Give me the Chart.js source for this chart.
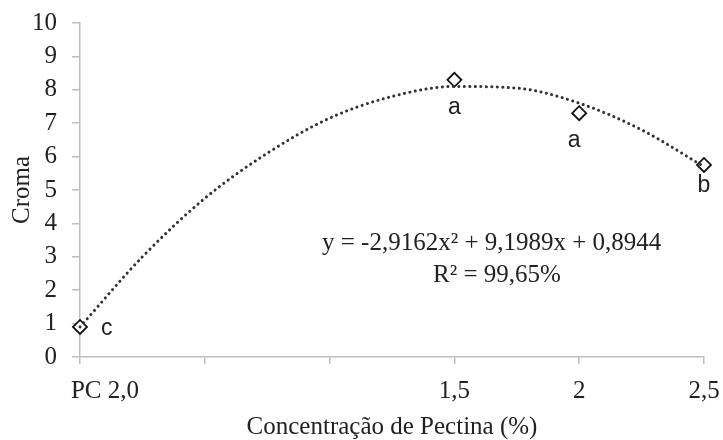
<!DOCTYPE html>
<html>
<head>
<meta charset="utf-8">
<script src="https://cdn.jsdelivr.net/npm/chart.js@4.4.0/dist/chart.umd.min.js"></script>
<style>
  body { margin: 0; background: #fff; }
  #wrap { width: 723px; height: 440px; position: relative; }
</style>
</head>
<body>
<div id="wrap"><canvas id="cromaChart"></canvas></div>
<script>
// Observed points (concentration, croma) and their letters
const pointX = [0, 1.5, 2, 2.5];
const pointY = [0.9, 8.3, 7.3, 5.75];
const pointLetters = ['c', 'a', 'a', 'b'];

// Dotted trend curve, every 0.25
const trendX = [0, 0.25, 0.5, 0.75, 1, 1.25, 1.5, 1.75, 2, 2.25, 2.5];
const trendY = [0.9, 3.0, 4.75, 6.1, 7.15, 7.8, 8.1, 8.05, 7.6, 6.8, 5.7];

// x tick labels (only some ticks are labelled)
const xTickValues = [0, 0.5, 1, 1.5, 2, 2.5];
const xTickLabels = ['        PC 2,0', '', '', '1,5', '2', '2,5'];

const equationText = 'y = -2,9162x\u00B2 + 9,1989x + 0,8944';
const r2Text = 'R\u00B2 = 99,65%';

const serif = '"Liberation Serif", "Times New Roman", serif';
const sans = '"Liberation Sans", Arial, sans-serif';
const axisGray = '#bfbfbf';
const textColor = '#222';

// letters next to points + equation box
const annotations = {
    id: 'annotations',
    afterDatasetsDraw(chart) {
        const ctx = chart.ctx;
        const meta = chart.getDatasetMeta(1);
        ctx.save();
        ctx.fillStyle = textColor;
        ctx.font = '23px ' + sans;
        ctx.textBaseline = 'alphabetic';
        meta.data.forEach((el, i) => {
            if (i === 0) {
                ctx.textAlign = 'left';
                ctx.fillText(pointLetters[i], el.x + 21, el.y + 8);
            } else {
                ctx.textAlign = 'center';
                ctx.fillText(pointLetters[i], el.x - (i === 2 ? 5 : 0), el.y + (i === 3 ? 27 : 34));
            }
        });
        ctx.font = '25px ' + serif;
        ctx.textAlign = 'left';
        ctx.fillText(equationText, 322, 250);
        ctx.fillText(r2Text, 433, 282);
        ctx.restore();
    }
};

const renderChart = () => {
    const ctx = document.getElementById('cromaChart').getContext('2d');
    Chart.defaults.font.family = serif;
    Chart.defaults.color = textColor;
    new Chart(ctx, {
        type: 'scatter',
        data: {
            datasets: [{
                type: 'line',
                data: trendX.map((x, i) => ({ x: x, y: trendY[i] })),
                borderColor: '#333',
                borderWidth: 3,
                borderDash: [0.1, 5.4],
                borderCapStyle: 'round',
                cubicInterpolationMode: 'monotone',
                pointRadius: 0,
                fill: false,
                clip: false
            }, {
                data: pointX.map((x, i) => ({ x: x, y: pointY[i] })),
                pointStyle: 'rectRot',
                pointRadius: 7,
                pointBorderWidth: 1.8,
                pointBorderColor: '#111',
                pointBackgroundColor: '#fff',
                clip: false
            }]
        },
        options: {
            responsive: true,
            maintainAspectRatio: false,
            animation: false,
            layout: { padding: { left: 0, top: 23, right: 19, bottom: 0 } },
            plugins: { legend: { display: false }, tooltip: { enabled: false } },
            scales: {
                x: {
                    type: 'linear',
                    min: 0,
                    max: 2.5,
                    afterFit: (s) => { s.height = 83; s.paddingLeft = 0; s.paddingRight = 0; },
                    afterBuildTicks: (s) => { s.ticks = xTickValues.map(v => ({ value: v })); },
                    border: { color: axisGray, width: 1.5 },
                    grid: { drawOnChartArea: false, color: axisGray, tickLength: 7, lineWidth: 1.5 },
                    ticks: {
                        font: { size: 25 },
                        padding: 12,
                        maxRotation: 0,
                        autoSkip: false,
                        callback: (v) => xTickLabels[xTickValues.indexOf(v)]
                    },
                    title: {
                        display: true,
                        text: 'Concentração de Pectina (%)',
                        font: { size: 25, lineHeight: 1 },
                        padding: 0
                    }
                },
                y: {
                    min: 0,
                    max: 10,
                    afterFit: (s) => { s.width = 80; s.paddingTop = 0; s.paddingBottom = 0; },
                    border: { color: axisGray, width: 1.5 },
                    grid: { drawOnChartArea: false, color: axisGray, tickLength: 8, lineWidth: 1.5 },
                    ticks: { stepSize: 1, autoSkip: false, font: { size: 25 }, padding: 15 },
                    title: {
                        display: true,
                        text: 'Croma',
                        font: { size: 25, lineHeight: 1.2 },
                        padding: { top: 7, bottom: 0 }
                    }
                }
            }
        },
        plugins: [annotations]
    });
};

renderChart();
</script>
</body>
</html>
